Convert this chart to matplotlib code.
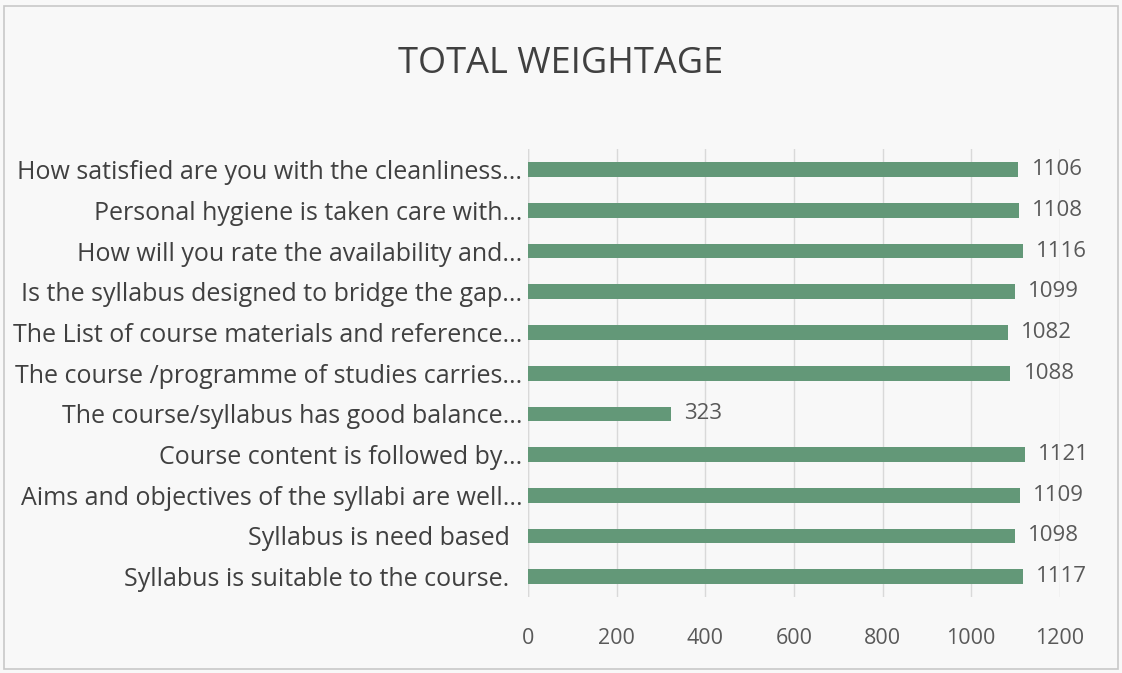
import matplotlib.pyplot as plt
from matplotlib.patches import Rectangle

# data (top to bottom as shown)
questions = [
    "How satisfied are you with the cleanliness...",
    "Personal hygiene is taken care with...",
    "How will you rate the availability and...",
    "Is the syllabus designed to bridge the gap...",
    "The List of course materials and reference...",
    "The course /programme of studies carries...",
    "The course/syllabus has good balance...",
    "Course content is followed by...",
    "Aims and objectives of the syllabi are well...",
    "Syllabus is need based  ",
    "Syllabus is suitable to the course.  ",
]
weightage = [1106, 1108, 1116, 1099, 1082, 1088, 323, 1121, 1109, 1098, 1117]
ticks = [0, 200, 400, 600, 800, 1000, 1200]

bar_color = "#639878"
text_color = "#404040"
tick_color = "#595959"

fig = plt.figure(figsize=(11.22, 6.73), dpi=100, facecolor="#f8f8f8")
fig.patches.append(Rectangle((0.004, 0.006), 0.992, 0.985, transform=fig.transFigure,
                             fill=False, edgecolor="#c8c8c8", linewidth=1.2))

ax = fig.add_axes([0.4706, 0.113, 0.474, 0.665])
ax.set_facecolor("none")

pos = list(range(len(questions)))[::-1]
ax.barh(pos, weightage, height=0.36, color=bar_color, zorder=3)
for p, v in zip(pos, weightage):
    ax.text(v + 30, p, str(v), va="center", ha="left", fontsize=16,
            color=tick_color, family="Open Sans")

ax.set_xlim(0, 1200)
ax.set_ylim(-0.5, len(questions) - 0.5)
ax.set_xticks(ticks)
ax.set_xticklabels([str(t) for t in ticks], fontsize=15.5, color=tick_color, family="Open Sans")
ax.set_yticks(pos)
ax.set_yticklabels(questions, fontsize=18, color=text_color, family="Open Sans")
ax.tick_params(axis="both", length=0, pad=4)
ax.tick_params(axis="x", pad=22)
ax.grid(axis="x", color="#d9d9d9", linewidth=1, zorder=0)
for s in ax.spines.values():
    s.set_visible(False)
ax.axvline(0, color="#d9d9d9", linewidth=1, zorder=1)

fig.text(0.5, 0.905, "TOTAL WEIGHTAGE", ha="center", va="center", fontsize=26,
         color="#404040", family="Open Sans")

fig.savefig("out.png", dpi=100, facecolor=fig.get_facecolor())
